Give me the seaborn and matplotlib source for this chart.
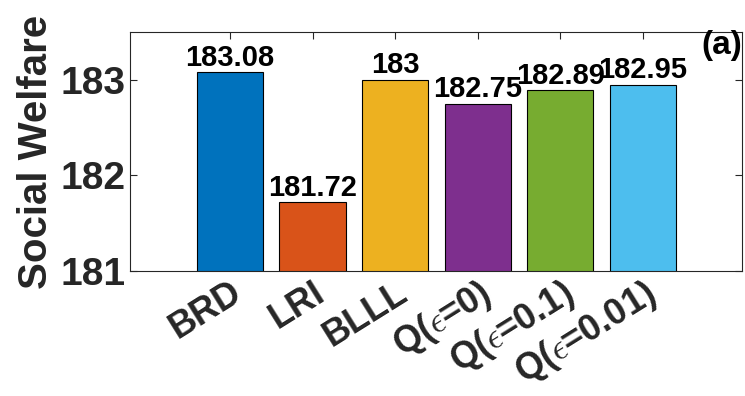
import matplotlib
matplotlib.use("Agg")
import matplotlib.pyplot as plt
import seaborn as sns
import pandas as pd

categories = ["BRD", "LRI", "BLLL", "Q($\\epsilon$=0)", "Q($\\epsilon$=0.1)", "Q($\\epsilon$=0.01)"]
values = [183.08, 181.72, 183.00, 182.75, 182.89, 182.95]
value_labels = ["183.08", "181.72", "183", "182.75", "182.89", "182.95"]
colors = ["#0072BD", "#D95319", "#EDB120", "#7E2F8E", "#77AC30", "#4DBEEE"]
yticks = [181, 182, 183]

sns.set_theme(style="ticks")
plt.rcParams["font.family"] = ["Liberation Sans", "DejaVu Sans"]
plt.rcParams["mathtext.fontset"] = "cm"

df = pd.DataFrame({"method": categories, "welfare": values})

fig = plt.figure(figsize=(7.45, 3.96), dpi=100)
ax = fig.add_axes([0.1745, 0.316, 0.996 - 0.1745, 0.919 - 0.316])

sns.barplot(data=df, x="method", y="welfare", hue="method", palette=colors,
            saturation=1, edgecolor="black", linewidth=0.8, width=0.8,
            legend=False, ax=ax)

ax.set_ylim(181, 183.5)
ax.set_xlim(-1.21, 6.2)
ax.set_yticks(yticks)
ax.set_yticklabels([str(t) for t in yticks], fontsize=28, fontweight="bold", color="#262626")
ax.set_xticks(range(len(categories)))
ax.set_xticklabels(categories, fontsize=26, fontweight="bold", color="#262626",
                   rotation=32, ha="right", va="top", rotation_mode="anchor")
for lab in ax.get_xticklabels():
    lab.set_transform(lab.get_transform() + matplotlib.transforms.ScaledTranslation(0.17, -0.38, fig.dpi_scale_trans))

ax.set_xlabel("")
ax.set_ylabel("Social Welfare", fontsize=29, fontweight="bold", color="#262626", labelpad=4)

ax.tick_params(axis="both", direction="in", length=5, width=0.8, color="#262626",
               top=True, right=True, pad=3)
for s in ax.spines.values():
    s.set_visible(True)
    s.set_color("#262626")
    s.set_linewidth(0.8)

for i, (v, t) in enumerate(zip(values, value_labels)):
    ax.text(i, v + 0.005, t, ha="center", va="bottom", fontsize=21, fontweight="bold", color="black")

ax.text(1.0, 1.01, "(a)", transform=ax.transAxes, ha="right", va="top",
        fontsize=24, fontweight="bold", color="black")

fig.savefig("out.png", dpi=100)
